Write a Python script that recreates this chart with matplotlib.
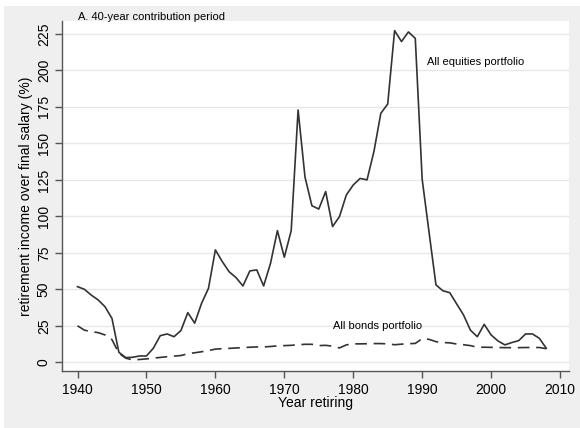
import matplotlib
matplotlib.use("Agg")
import matplotlib.pyplot as plt
from matplotlib.patches import Rectangle

plt.rcParams['font.family'] = ['Liberation Sans', 'DejaVu Sans']

years = list(range(1940, 2009))

equities = [51.8, 50.0, 46.0, 42.7, 38.0, 30.0, 6.8, 3.2, 3.4, 4.3,
            4.3, 9.6, 18.2, 19.4, 17.5, 21.7, 34.0, 26.8, 40.4, 50.7,
            77.0, 69.0, 62.0, 58.0, 52.3, 62.6, 63.3, 52.3, 67.8, 90.2,
            72.0, 90.2, 172.9, 127.0, 107.3, 105.0, 117.0, 93.0, 99.8, 114.7,
            121.5, 126.0, 125.0, 144.4, 170.6, 177.0, 227.3, 219.8, 226.4, 222.0,
            125.4, 89.0, 53.0, 49.0, 47.7, 40.0, 32.4, 22.0, 17.5, 26.0,
            18.7, 14.6, 11.9, 13.5, 14.8, 19.4, 19.4, 16.4, 9.6]

bonds = [25.0, 22.0, 21.0, 20.3, 18.7, 15.5, 6.2, 2.8, 1.6, 1.9,
         2.3, 2.8, 3.3, 3.8, 4.2, 4.6, 5.8, 6.5, 7.2, 8.0,
         9.0, 9.3, 9.5, 9.8, 10.0, 10.3, 10.5, 10.5, 10.8, 11.2,
         11.4, 11.6, 12.0, 12.3, 12.3, 11.4, 11.6, 11.0, 9.8, 11.9,
         12.6, 12.6, 12.7, 12.8, 12.8, 12.6, 12.0, 12.4, 12.7, 12.9,
         16.2, 15.7, 14.1, 13.5, 13.3, 12.5, 12.0, 11.4, 10.3, 10.3,
         10.2, 10.1, 10.0, 10.0, 10.0, 10.1, 10.1, 10.1, 9.3]

xticks = [1940, 1950, 1960, 1970, 1980, 1990, 2000, 2010]
yticks = [0, 25, 50, 75, 100, 125, 150, 175, 200, 225]

W, H = 580, 428
fig = plt.figure(figsize=(W / 100, H / 100), dpi=100)
fig.patch.set_facecolor("white")
fig.patches.append(Rectangle((4 / W, 0), 1, 1 - 6 / H, transform=fig.transFigure,
                             facecolor="#efefef", edgecolor="none", zorder=-10))

ax = fig.add_axes([62 / W, (H - 371) / H, (569 - 62) / W, (371 - 21) / H])
ax.set_facecolor("white")

ax.plot(years, equities, color="#333333", lw=1.2)
ax.plot(years, bonds, color="#333333", lw=1.2, dashes=(7, 4))

ax.set_xlim(1937.75, 2011.3)
ax.set_ylim(-6.0, 233.9)
ax.set_xticks(xticks)
ax.set_yticks(yticks)
ax.set_yticklabels([str(v) for v in yticks], rotation=90, va="center")
ax.grid(axis="y", color="#e8e8e8", lw=1.0)
ax.set_axisbelow(True)

for s in ["top", "right"]:
    ax.spines[s].set_visible(False)
for s in ["left", "bottom"]:
    ax.spines[s].set_color("#555555")
    ax.spines[s].set_linewidth(1.0)
ax.tick_params(colors="#555555", labelcolor="black", length=5, width=1.0,
               labelsize=10, pad=3)
ax.tick_params(axis="x", pad=4)

ax.set_ylabel("retirement income over final salary (%)", fontsize=10, labelpad=3)
fig.text(315.5 / W, 1 - 403 / H, "Year retiring", fontsize=10,
         ha="center", va="center")

ax.text(1990.7, 205.8, "All equities portfolio", fontsize=8, va="center")
ax.text(1977.0, 25.1, "All bonds portfolio", fontsize=8, va="center")
fig.text(78 / W, 1 - 17 / H, "A. 40-year contribution period", fontsize=8, va="center")

fig.savefig("out.png", dpi=100)
